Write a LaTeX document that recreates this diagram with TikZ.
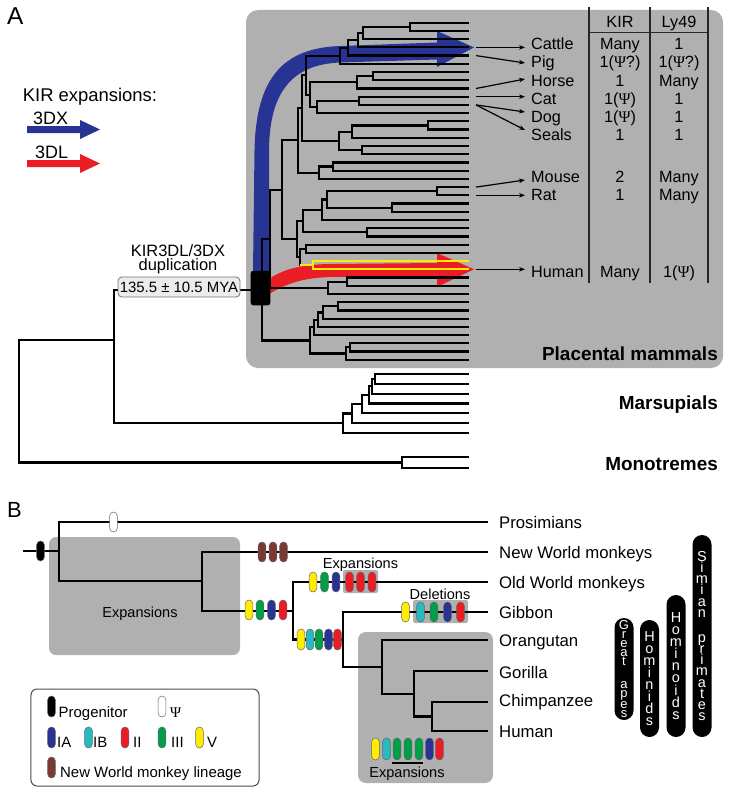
\documentclass[tikz,border=0pt]{standalone}
\usepackage{fontspec}
\setmainfont{Liberation Sans}
\newfontfamily\psifont{Liberation Serif}
\usetikzlibrary{arrows.meta}
\definecolor{boxgray}{RGB}{176,176,176}
\definecolor{kblue}{RGB}{40,52,148}
\definecolor{kred}{RGB}{236,28,36}
\definecolor{kyellow}{RGB}{255,236,0}
\definecolor{kgreen}{RGB}{0,158,72}
\definecolor{kcyan}{RGB}{40,186,190}
\definecolor{kbrown}{RGB}{122,58,52}
\definecolor{lightbox}{RGB}{236,236,236}
\newcommand{\Psym}{{\psifont Ψ}}
\newcommand{\fsz}[1]{\fontsize{#1}{#1}\selectfont}
\newcommand{\edgesA}[2]{\draw[treeA] foreach \kid in {#2} {(#1) |- (\kid)};}
\newcommand{\edgesB}[2]{\draw[treeB] foreach \kid in {#2} {(#1) |- (\kid)};}
\newcommand{\pill}[5]{\node[pill,fill=#4,minimum height=#5] (#1) at (#2,#3) {};}
\begin{document}
\begin{tikzpicture}[x=1bp,y=-1bp,
  treeA/.style={line width=2.2bp},
  treeB/.style={line width=2.8bp},
  pill/.style={rectangle,rounded corners=3.8bp,minimum width=7.6bp,inner sep=0,draw=black!60,line width=0.5bp},
  conn/.style={line width=1.2bp,-{Stealth[length=6bp,width=4.6bp]}},
  tabline/.style={line width=1.1bp,draw=black!85},
  lab/.style={inner sep=0,font=\fsz{16.3},anchor=base west},
  cell/.style={inner sep=0,font=\fsz{16.3},anchor=base},
  labB/.style={inner sep=0,font=\fsz{16.8},anchor=base west},
  clade/.style={inner sep=0,font=\bfseries\fsz{19},anchor=base east},
  small/.style={inner sep=0,font=\fsz{14.6},anchor=base},
  leg/.style={inner sep=0,font=\fsz{15},anchor=base west},
  vpill/.style={fill=black,rounded corners=9.5bp,minimum width=19bp,inner sep=0,text=white,align=center},
]
\useasboundingbox (0,0) rectangle (729,792);

% ================= PANEL A =================
\fill[boxgray,rounded corners=12bp] (246,10) rectangle (723,368);

% expansion arrows
\fill[kblue] (253,272) -- (254.5,150) .. controls (256,78) and (283,48) .. (340,46) -- (437,42.5) -- (437,31) -- (474,47.4) -- (437,67) -- (437,59.5) -- (340,62.5) .. controls (292,64.5) and (269.5,92) .. (269,150) -- (269,272) -- cycle;
\fill[kred] (266,281) .. controls (283,269) and (300,264.5) .. (330,264) -- (437,263) -- (437,253) -- (474,269.3) -- (437,287) -- (437,276) -- (330,277) .. controls (300,278) and (283,285) .. (266,296) -- cycle;

% leaves
\foreach \i in {1,...,42} {\coordinate (L\i) at (469,{22.7+(\i-1)*8.22});}
\foreach \i in {1,...,7} {\coordinate (M\i) at (469,{374+(\i-1)*9.8});}
\coordinate (T1) at (469,457);
\coordinate (T2) at (469,468);

% internal nodes
\coordinate (n1) at (410,26.81);
\coordinate (n2) at (363,32.98);
\coordinate (n3) at (358,40.17);
\coordinate (n4) at (348,47.88);
\coordinate (n5) at (340,55.84);
\coordinate (n6) at (373,76.13);
\coordinate (n7) at (357,82.30);
\coordinate (n8) at (359,100.79);
\coordinate (n9) at (317,106.96);
\coordinate (n10) at (310,94.63);
\coordinate (n11) at (306,75.24);
\coordinate (n12) at (428,125.45);
\coordinate (n13) at (352,131.62);
\coordinate (n14) at (362,150.11);
\coordinate (n15) at (339,140.87);
\coordinate (n16) at (302,108.05);
\coordinate (n17) at (333,166.55);
\coordinate (n18) at (319,172.72);
\coordinate (n19) at (298,140.38);
\coordinate (n20) at (437,191.21);
\coordinate (n21) at (392,207.65);
\coordinate (n22) at (327,199.43);
\coordinate (n23) at (322,209.70);
\coordinate (n24) at (367,232.31);
\coordinate (n25) at (303,221.01);
\coordinate (n26) at (306,248.75);
\coordinate (nH) at (313,265.19);
\coordinate (n26x) at (300,256.97);
\coordinate (nM) at (297,238.99);
\coordinate (n27) at (282,189.69);
\coordinate (nX1) at (347,281.63);
\coordinate (nX) at (328,287.80);
\coordinate (n28) at (270,238.74);
\coordinate (nY1) at (338,306.29);
\coordinate (nY2) at (323,312.46);
\coordinate (nY3) at (318,319.65);
\coordinate (nY4) at (314,327.36);
\coordinate (nZ1) at (350,347.39);
\coordinate (nZ) at (346,353.56);
\coordinate (nW) at (310,340.46);
\coordinate (PR) at (262,289.60);
\coordinate (R2) at (114,340);
\coordinate (mm1) at (375,378.9);
\coordinate (mm2) at (372,386.25);
\coordinate (mm3) at (369,394.83);
\coordinate (mm4) at (362,404.11);
\coordinate (mm5) at (352,413.56);
\coordinate (mm6) at (343,423.18);
\coordinate (mono) at (402,462.5);
\coordinate (R1) at (19,401.6);

\edgesA{n1}{L1,L2}
\edgesA{n2}{n1,L3}
\edgesA{n3}{n2,L4}
\edgesA{n4}{n3,L5}
\edgesA{n5}{n4,L6}
\edgesA{n6}{L7,L8}
\edgesA{n7}{n6,L9}
\edgesA{n8}{L10,L11}
\edgesA{n9}{n8,L12}
\edgesA{n10}{n7,n9}
\edgesA{n11}{n5,n10}
\edgesA{n12}{L13,L14}
\edgesA{n13}{n12,L15}
\edgesA{n14}{L16,L17}
\edgesA{n15}{n13,n14}
\edgesA{n16}{n11,n15}
\edgesA{n17}{L18,L19}
\edgesA{n18}{n17,L20}
\edgesA{n19}{n16,n18}
\edgesA{n20}{L21,L22}
\edgesA{n21}{L23,L24}
\edgesA{n22}{n20,n21}
\edgesA{n23}{n22,L25}
\edgesA{n24}{L26,L27}
\edgesA{n25}{n23,n24}
\edgesA{n26}{L28,L29}
\edgesA{nH}{L30,L31}
\edgesA{n26x}{n26,nH}
\edgesA{nM}{n25,n26x}
\edgesA{n27}{n19,nM}
\edgesA{nX1}{L32,L33}
\edgesA{nX}{nX1,L34}
\edgesA{n28}{n27,nX}
\edgesA{nY1}{L35,L36}
\edgesA{nY2}{nY1,L37}
\edgesA{nY3}{nY2,L38}
\edgesA{nY4}{nY3,L39}
\edgesA{nZ1}{L40,L41}
\edgesA{nZ}{nZ1,L42}
\edgesA{nW}{nY4,nZ}
\edgesA{PR}{n28,nW}
\edgesA{mm1}{M1,M2}
\edgesA{mm2}{mm1,M3}
\edgesA{mm3}{mm2,M4}
\edgesA{mm4}{mm3,M5}
\edgesA{mm5}{mm4,M6}
\edgesA{mm6}{mm5,M7}
\edgesA{mono}{T1,T2}
\edgesA{R2}{PR,mm6}
\edgesA{R1}{R2,mono}

% human clade highlighted
\draw[treeA,draw=kyellow] (nH) |- (L30) (nH) |- (L31) (n26x |- nH) -- (nH);

% duplication box and label
\node[fill=black,rounded corners=2.5bp,minimum width=19.6bp,minimum height=34.5bp,inner sep=0] (dupbox) at (260.5,288) {};
\node[fill=lightbox,draw=black!55,line width=0.8bp,rounded corners=4bp,minimum width=122bp,minimum height=20bp,inner sep=0,font=\fsz{15}] (mya) at (179,287) {135.5 ± 10.5 MYA};
\node[anchor=base,inner sep=0,font=\fsz{16.5}] (dup1) at (178,256) {KIR3DL/3DX};
\node[anchor=base,inner sep=0,font=\fsz{16.5}] (dup2) at (178,270) {duplication};

% legend A
\node[anchor=base west,inner sep=0,font=\fsz{24.5}] (labA) at (7,25) {A};
\node[anchor=base west,inner sep=0,font=\fsz{18.5}] (kexp) at (22.7,101.7) {KIR expansions:};
\node[anchor=base west,inner sep=0,font=\fsz{18}] (t3dx) at (33,124.3) {3DX};
\node[anchor=base west,inner sep=0,font=\fsz{18}] (t3dl) at (35,158) {3DL};
\fill[kblue] (27,126) -- (80,126) -- (80,120) -- (100,129.5) -- (80,139) -- (80,133) -- (27,133) -- cycle;
\fill[kred] (27,160) -- (80,160) -- (80,154) -- (100,163.5) -- (80,173) -- (80,167) -- (27,167) -- cycle;

% table
\draw[tabline] (589,7) -- (589,283) (650,7) -- (650,283) (708,7) -- (708,283) (589,32.3) -- (708,32.3);
\node[cell] (hK) at (620,27.3) {KIR};
\node[cell] (hL) at (679,27.3) {Ly49};

\node[lab] (cattle) at (531,50) {Cattle};
\node[lab] (pig) at (531,68) {Pig};
\node[lab] (horse) at (531,86) {Horse};
\node[lab] (cat) at (531,104) {Cat};
\node[lab] (dog) at (531,122) {Dog};
\node[lab] (seals) at (531,140) {Seals};
\node[lab] (mouse) at (531,182) {Mouse};
\node[lab] (rat) at (531,200) {Rat};
\node[lab] (human) at (531,277) {Human};

\node[cell] (k1) at (620,50) {Many};   \node[cell] (y1) at (679,50) {1};
\node[cell] (k2) at (620,68) {1(\Psym?)}; \node[cell] (y2) at (679,68) {1(\Psym?)};
\node[cell] (k3) at (620,86) {1};      \node[cell] (y3) at (679,86) {Many};
\node[cell] (k4) at (620,104) {1(\Psym)}; \node[cell] (y4) at (679,104) {1};
\node[cell] (k5) at (620,122) {1(\Psym)}; \node[cell] (y5) at (679,122) {1};
\node[cell] (k6) at (620,140) {1};      \node[cell] (y6) at (679,140) {1};
\node[cell] (k7) at (620,182) {2};      \node[cell] (y7) at (679,182) {Many};
\node[cell] (k8) at (620,200) {1};      \node[cell] (y8) at (679,200) {Many};
\node[cell] (k9) at (620,277) {Many};   \node[cell] (y9) at (679,277) {1(\Psym)};

% connectors leaf -> species
\coordinate (sCattle) at (476,47.4);  \coordinate (eCattle) at (525,47.4);
\coordinate (sPig) at (476,55.6);     \coordinate (ePig) at (525,63);
\coordinate (sHorse) at (476,88.5);   \coordinate (eHorse) at (525,79);
\coordinate (sCat) at (476,96.7);     \coordinate (eCat) at (525,96.7);
\coordinate (sDog) at (476,104.9);    \coordinate (eDog) at (525,112);
\coordinate (eSeals) at (525,130);
\coordinate (sMouse) at (476,187.1);  \coordinate (eMouse) at (525,180);
\coordinate (sRat) at (476,195.3);    \coordinate (eRat) at (525,195.3);
\coordinate (sHuman) at (476,269.3);  \coordinate (eHuman) at (525,269.3);
\draw[conn] (sCattle) -- (eCattle);
\draw[conn] (sPig) -- (ePig);
\draw[conn] (sHorse) -- (eHorse);
\draw[conn] (sCat) -- (eCat);
\draw[conn] (sDog) -- (eDog);
\draw[conn] (sDog) -- (eSeals);
\draw[conn] (sMouse) -- (eMouse);
\draw[conn] (sRat) -- (eRat);
\draw[conn] (sHuman) -- (eHuman);

\node[clade] (placental) at (718,360) {Placental mammals};
\node[clade] (marsup) at (718,409.5) {Marsupials};
\node[clade] (monot) at (718,470) {Monotremes};

% ================= PANEL B =================
\node[anchor=base west,inner sep=0,font=\fsz{22}] (labB) at (7,517) {B};

\fill[boxgray,rounded corners=7bp] (49,537) rectangle (240,655);
\fill[boxgray,rounded corners=2bp] (343,570) rectangle (378,593);
\fill[boxgray,rounded corners=2bp] (413,600) rectangle (468,623);
\fill[boxgray,rounded corners=8bp] (358,632) rectangle (493,783);

\coordinate (B0) at (23,551);
\coordinate (BR) at (59,551);
\coordinate (BA) at (202,581);
\coordinate (BB) at (293,611);
\coordinate (BC) at (343,639.5);
\coordinate (BD) at (382,667);
\coordinate (BE) at (414,694);
\coordinate (BF) at (432,716.5);
\coordinate (Bpro) at (488,522);
\coordinate (Bnwm) at (488,552);
\coordinate (Bowm) at (488,582);
\coordinate (Bgib) at (488,612);
\coordinate (Bora) at (488,640);
\coordinate (Bgor) at (488,671);
\coordinate (Bchi) at (488,702);
\coordinate (Bhum) at (488,731);

\draw[treeB] (B0) -- (BR);
\edgesB{BR}{Bpro,BA}
\edgesB{BA}{Bnwm,BB}
\edgesB{BB}{Bowm,BC}
\edgesB{BC}{Bgib,BD}
\edgesB{BD}{Bora,BE}
\edgesB{BE}{Bgor,BF}
\edgesB{BF}{Bchi,Bhum}

% capsules
\pill{prog}{40.5}{551}{black}{20bp}
\pill{psi}{113.5}{522}{white}{20bp}
\pill{nw1}{262}{552}{kbrown}{20bp}
\pill{nw2}{273}{552}{kbrown}{20bp}
\pill{nw3}{283.5}{552}{kbrown}{20bp}
\pill{a1}{249}{610}{kyellow}{20bp}
\pill{a2}{260}{610}{kgreen}{20bp}
\pill{a3}{271.5}{610}{kblue}{20bp}
\pill{a4}{283}{610}{kred}{20bp}
\pill{o1}{313}{582}{kyellow}{20bp}
\pill{o2}{324.5}{582}{kgreen}{20bp}
\pill{o3}{336}{582}{kblue}{20bp}
\pill{o4}{349.5}{582}{kred}{20bp}
\pill{o5}{360.5}{582}{kred}{20bp}
\pill{o6}{372}{582}{kred}{20bp}
\pill{h1}{301}{639.5}{kyellow}{21bp}
\pill{h2}{310}{639.5}{kcyan}{21bp}
\pill{h3}{319}{639.5}{kgreen}{21bp}
\pill{h4}{328.5}{639.5}{kblue}{21bp}
\pill{h5}{337.5}{639.5}{kred}{21bp}
\pill{g1}{405.5}{612}{kyellow}{20bp}
\pill{g2}{420.5}{612}{kcyan}{20bp}
\pill{g3}{434}{612}{kgreen}{20bp}
\pill{g4}{447.5}{612}{kblue}{20bp}
\pill{g5}{460.5}{612}{kred}{20bp}
\pill{e1}{375.5}{749}{kyellow}{22bp}
\pill{e2}{386.5}{749}{kcyan}{22bp}
\pill{e3}{397}{749}{kgreen}{22bp}
\pill{e4}{408}{749}{kgreen}{22bp}
\pill{e5}{419}{749}{kgreen}{22bp}
\pill{e6}{429.5}{749}{kblue}{22bp}
\pill{e7}{439.5}{749}{kred}{22bp}
\draw[line width=2bp] (392,763) -- (423,763);

\node[small] (expL) at (140,617.5) {Expansions};
\node[small] (expO) at (360.5,568.5) {Expansions};
\node[small] (delG) at (440,599) {Deletions};
\node[small] (expG) at (407,777) {Expansions};

\node[labB] (tpro) at (499,528) {Prosimians};
\node[labB] (tnwm) at (499,558) {New World monkeys};
\node[labB] (towm) at (499,588) {Old World monkeys};
\node[labB] (tgib) at (499,618) {Gibbon};
\node[labB] (tora) at (499,646.5) {Orangutan};
\node[labB] (tgor) at (499,678) {Gorilla};
\node[labB] (tchi) at (499,706.5) {Chimpanzee};
\node[labB] (thum) at (499,737) {Human};

% vertical clade pills
\node[vpill,minimum height=102bp,font=\fontsize{13}{9}\selectfont] (vGA) at (624,669) {G\\r\\e\\a\\t\\[14bp]a\\p\\e\\s};
\node[vpill,minimum height=117bp,font=\fontsize{14.5}{12}\selectfont] (vHd) at (649.5,678.5) {H\\o\\m\\i\\n\\i\\d\\s};
\node[vpill,minimum height=142bp,font=\fontsize{14.5}{12.1}\selectfont] (vHo) at (676,666) {H\\o\\m\\i\\n\\o\\i\\d\\s};
\node[vpill,minimum height=202bp,font=\fontsize{14.5}{11.3}\selectfont] (vSP) at (702,636) {S\\i\\m\\i\\a\\n\\[13.5bp]p\\r\\i\\m\\a\\t\\e\\s};

% legend
\node[draw=black!70,line width=1bp,rounded corners=6bp,minimum width=228bp,minimum height=97bp,fill=white,inner sep=0] (legbox) at (145,737.5) {};
\pill{lp1}{51.5}{706.5}{black}{21bp}
\pill{lp2}{162}{706.5}{white}{21bp}
\pill{lp3}{51.5}{737.5}{kblue}{21bp}
\pill{lp4}{88.5}{737.5}{kcyan}{21bp}
\pill{lp5}{125}{737.5}{kred}{21bp}
\pill{lp6}{162}{737.5}{kgreen}{21bp}
\pill{lp7}{199.5}{737.5}{kyellow}{21bp}
\pill{lp8}{51.5}{767.5}{kbrown}{21bp}
\node[leg] (lt1) at (58.5,717.5) {Progenitor};
\node[leg] (lt2) at (170,717.5) {\Psym};
\node[leg] (lt3) at (57,747.5) {IA};
\node[leg] (lt4) at (93,747.5) {IB};
\node[leg] (lt5) at (133,747.5) {II};
\node[leg] (lt6) at (171,747.5) {III};
\node[leg] (lt7) at (207,747.5) {V};
\node[leg] (lt8) at (60,777.5) {New World monkey lineage};
\end{tikzpicture}
\end{document}
